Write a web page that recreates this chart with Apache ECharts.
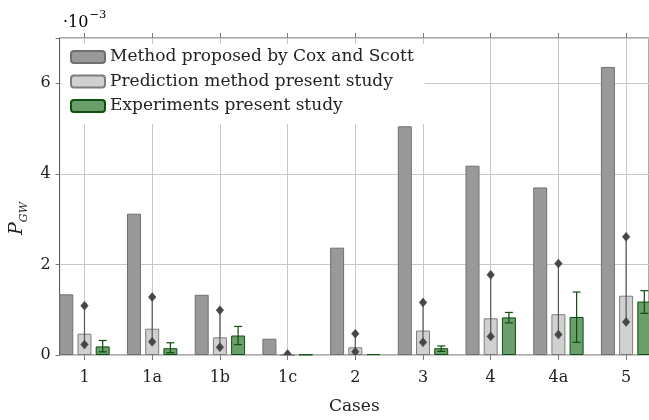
<!DOCTYPE html>
<html><head><meta charset="utf-8">
<script src="https://cdn.jsdelivr.net/npm/echarts@6/dist/echarts.min.js"></script>
<style>html,body{margin:0;padding:0;background:#fff}#c{width:649px;height:420px}</style>
</head><body><div id="c"></div>
<script>
const cases = ['1','1a','1b','1c','2','3','4','4a','5'];
const coxScott = [1.34, 3.12, 1.33, 0.36, 2.37, 5.05, 4.18, 3.70, 6.36];
const prediction = [0.47, 0.58, 0.39, 0.00, 0.17, 0.54, 0.81, 0.90, 1.31];
const predLow = [0.23, 0.29, 0.17, 0.00, 0.07, 0.28, 0.41, 0.45, 0.73];
const predHigh = [1.09, 1.28, 0.99, 0.02, 0.47, 1.16, 1.77, 2.02, 2.61];
const experiments = [0.19, 0.15, 0.43, 0.01, 0.02, 0.15, 0.83, 0.84, 1.18];
const expLow = [0.07, 0.05, 0.23, null, null, 0.08, 0.71, 0.28, 0.92];
const expHigh = [0.32, 0.27, 0.63, null, null, 0.20, 0.94, 1.39, 1.42];
const yTicks = [0, 2, 4, 6];

const FONT = 'DejaVu Serif';
const BAR_W = 14, BAR_GAP = 4.2;
const idx = cases.map((c, i) => i);
const pairs = arr => arr.map((v, i) => [i, v]);

const chart = echarts.init(document.getElementById('c'), null, {renderer: 'canvas'});

function diamond(cx, cy, col) {
  return {type: 'polygon', shape: {points: [[cx, cy - 4.5], [cx + 3.8, cy], [cx, cy + 4.5], [cx - 3.8, cy]]},
    style: {fill: col, stroke: col, lineWidth: 0.5}};
}

const xCommon = {
  type: 'value', min: -0.368, max: 8.338,
  axisLine: {show: false},
  splitLine: {show: false},
};

chart.setOption({
  animation: false,
  grid: {left: 58, top: 38, width: 592, height: 319, show: true, borderColor: '#5a5a5a', borderWidth: 1, backgroundColor: 'transparent'},
  legend: {
    orient: 'vertical', left: 62, top: 44,
    backgroundColor: '#fff', borderWidth: 0,
    padding: [4.5, 11, 9.5, 8],
    itemWidth: 34, itemHeight: 12, itemGap: 7.5,
    textStyle: {fontFamily: FONT, fontSize: 17, color: '#222', lineHeight: 17},
    data: ['Method proposed by Cox and Scott', 'Prediction method present study', 'Experiments present study']
  },
  graphic: [{
    type: 'text', left: 63, top: 9,
    style: {
      text: '{a|·10}{b|−3}',
      rich: {
        a: {fontFamily: FONT, fontSize: 16, color: '#222', verticalAlign: 'bottom', lineHeight: 22},
        b: {fontFamily: FONT, fontSize: 11.5, color: '#222', verticalAlign: 'top', lineHeight: 22, padding: [0, 0, 8, 1]}
      }
    }
  }],
  xAxis: [Object.assign({}, xCommon, {
    position: 'bottom',
    name: 'Cases', nameLocation: 'middle', nameGap: 43,
    nameTextStyle: {fontFamily: FONT, fontSize: 17, color: '#222'},
    axisTick: {show: true, customValues: idx, length: 5, lineStyle: {color: '#777'}},
    axisLabel: {customValues: idx, formatter: v => cases[Math.round(v)], fontFamily: FONT, fontSize: 16, color: '#222', margin: 15},
    splitLine: {show: true, lineStyle: {color: '#c8c8c8', width: 1}}
  }), Object.assign({}, xCommon, {
    position: 'top',
    axisTick: {show: true, customValues: idx, length: 5, lineStyle: {color: '#777'}},
    axisLabel: {show: false}
  })],
  yAxis: {
    type: 'value', min: 0, max: 7, interval: 2,
    name: '{p|P}{s|GW}', nameLocation: 'middle', nameGap: 28, nameRotate: 90,
    nameTextStyle: {
      padding: [0, 44, 0, 0],
      rich: {
        p: {fontFamily: FONT, fontStyle: 'italic', fontSize: 19, color: '#222', lineHeight: 24, verticalAlign: 'middle'},
        s: {fontFamily: FONT, fontStyle: 'italic', fontSize: 11, color: '#222', lineHeight: 11, verticalAlign: 'bottom'}
      }
    },
    axisLine: {show: true, onZero: false, lineStyle: {color: '#5a5a5a', width: 1}},
    axisTick: {show: true, length: 4, lineStyle: {color: '#777'}},
    axisLabel: {fontFamily: FONT, fontSize: 16, color: '#222', margin: 9, formatter: v => yTicks.indexOf(v) >= 0 ? String(v) : ''},
    splitLine: {show: true, lineStyle: {color: '#c8c8c8', width: 1}}
  },
  series: [
    {name: 'Method proposed by Cox and Scott', type: 'bar', data: pairs(coxScott), barWidth: BAR_W, barGap: '30%',
      itemStyle: {color: '#999999', borderColor: '#707070', borderWidth: 1}},
    {name: 'Prediction method present study', type: 'bar', data: pairs(prediction), barWidth: BAR_W, barGap: '30%',
      itemStyle: {color: '#d0d0d0', borderColor: '#7d7d7d', borderWidth: 1}},
    {name: 'Experiments present study', type: 'bar', data: pairs(experiments), barWidth: BAR_W, barGap: '30%',
      itemStyle: {color: '#6a9e6a', borderColor: '#0f4f0f', borderWidth: 1}},
    {type: 'custom', z: 5, clip: true,
      data: idx.map(i => [i, predLow[i], predHigh[i]]),
      renderItem: (params, api) => {
        const lo = api.coord([api.value(0), api.value(1)]);
        const hi = api.coord([api.value(0), api.value(2)]);
        const col = '#464646';
        return {type: 'group', children: [
          {type: 'line', shape: {x1: lo[0], y1: lo[1], x2: hi[0], y2: hi[1]}, style: {stroke: '#555', lineWidth: 1.2}},
          diamond(lo[0], lo[1], col), diamond(hi[0], hi[1], col)
        ]};
      }},
    {type: 'custom', z: 5, clip: true,
      data: idx.filter(i => expLow[i] != null).map(i => [i, expLow[i], expHigh[i]]),
      renderItem: (params, api) => {
        const off = BAR_W + BAR_GAP;
        const lo = api.coord([api.value(0), api.value(1)]);
        const hi = api.coord([api.value(0), api.value(2)]);
        const x = lo[0] + off, cw = 4;
        const st = {stroke: '#0d4d0d', lineWidth: 1.2};
        return {type: 'group', children: [
          {type: 'line', shape: {x1: x, y1: lo[1], x2: x, y2: hi[1]}, style: st},
          {type: 'line', shape: {x1: x - cw, y1: lo[1], x2: x + cw, y2: lo[1]}, style: st},
          {type: 'line', shape: {x1: x - cw, y1: hi[1], x2: x + cw, y2: hi[1]}, style: st}
        ]};
      }}
  ]
});
</script></body></html>
